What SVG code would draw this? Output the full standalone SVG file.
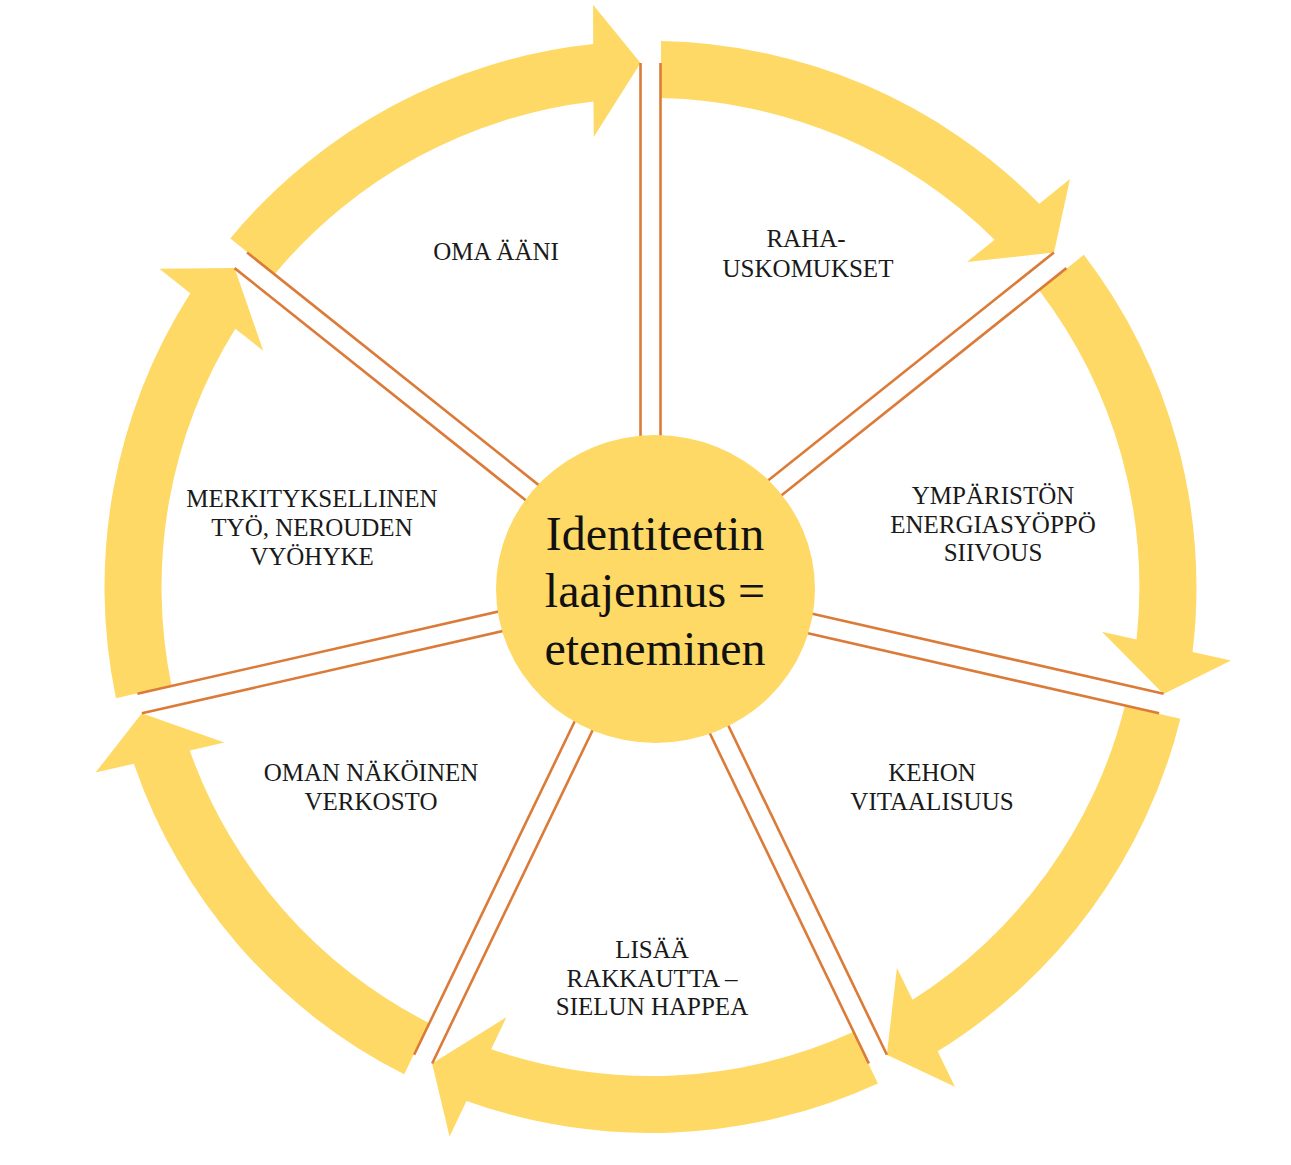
<svg xmlns="http://www.w3.org/2000/svg" xmlns:xlink="http://www.w3.org/1999/xlink" width="1291" height="1165" viewBox="0 0 1291 1165">
<style>
.arrow{fill:#FED966;stroke:none}
.edge{stroke:#DC7A38;stroke-width:2.6;fill:none}
.lbl{font-family:"Liberation Serif","Times New Roman",serif;font-size:25px;fill:#1a1a1a;text-anchor:middle}
.title{font-family:"Liberation Serif","Times New Roman",serif;font-size:48px;fill:#111;text-anchor:middle}
</style>
<defs>
<path id="arr" d="M 10.5,-545.9 A 546 546 0 0 1 388.8,-383.3 L 419.5,-408 L 403.5,-334.5 L 316.5,-325 L 344.1,-347.3 A 489 489 0 0 0 10.5,-488.9 Z"/>
<g id="div"><line x1="-10" y1="-130" x2="-10" y2="-524"/><line x1="10" y1="-130" x2="10" y2="-524"/></g>
</defs>
<rect width="1291" height="1165" fill="#ffffff"/>
<g id="connectors" class="arrow" transform="translate(650.5 587)">
<use xlink:href="#arr" href="#arr"/>
<use xlink:href="#arr" href="#arr" transform="rotate(51.428571)"/>
<use xlink:href="#arr" href="#arr" transform="rotate(102.857143)"/>
<use xlink:href="#arr" href="#arr" transform="rotate(154.285714)"/>
<use xlink:href="#arr" href="#arr" transform="rotate(205.714286)"/>
<use xlink:href="#arr" href="#arr" transform="rotate(257.142857)"/>
<use xlink:href="#arr" href="#arr" transform="rotate(308.571429)"/>
</g>
<g id="dividers" class="edge" transform="translate(650.5 587)">
<use xlink:href="#div" href="#div"/>
<use xlink:href="#div" href="#div" transform="rotate(51.428571)"/>
<use xlink:href="#div" href="#div" transform="rotate(102.857143)"/>
<use xlink:href="#div" href="#div" transform="rotate(154.285714)"/>
<use xlink:href="#div" href="#div" transform="rotate(205.714286)"/>
<use xlink:href="#div" href="#div" transform="rotate(257.142857)"/>
<use xlink:href="#div" href="#div" transform="rotate(308.571429)"/>
</g>
<g id="node-center">
<ellipse cx="655.5" cy="589" rx="159.5" ry="154" fill="#FED966"/>
<text class="title" x="655" y="550">Identiteetin</text>
<text class="title" x="655" y="607">laajennus =</text>
<text class="title" x="655" y="665">eteneminen</text>
</g>
<g id="node-oma-aani"><text class="lbl" x="496" y="260">OMA ÄÄNI</text></g>
<g id="node-raha"><text class="lbl" x="806" y="247">RAHA-</text><text class="lbl" x="808" y="277">USKOMUKSET</text></g>
<g id="node-ymparisto"><text class="lbl" x="993" y="504">YMPÄRISTÖN</text><text class="lbl" x="993" y="533">ENERGIASYÖPPÖ</text><text class="lbl" x="993" y="561">SIIVOUS</text></g>
<g id="node-keho"><text class="lbl" x="932" y="781">KEHON</text><text class="lbl" x="932" y="810">VITAALISUUS</text></g>
<g id="node-rakkaus"><text class="lbl" x="652" y="958">LISÄÄ</text><text class="lbl" x="652" y="987">RAKKAUTTA –</text><text class="lbl" x="652" y="1015">SIELUN HAPPEA</text></g>
<g id="node-verkosto"><text class="lbl" x="371" y="781">OMAN NÄKÖINEN</text><text class="lbl" x="371" y="810">VERKOSTO</text></g>
<g id="node-tyo"><text class="lbl" x="312" y="507">MERKITYKSELLINEN</text><text class="lbl" x="312" y="536">TYÖ, NEROUDEN</text><text class="lbl" x="312" y="565">VYÖHYKE</text></g>
</svg>
